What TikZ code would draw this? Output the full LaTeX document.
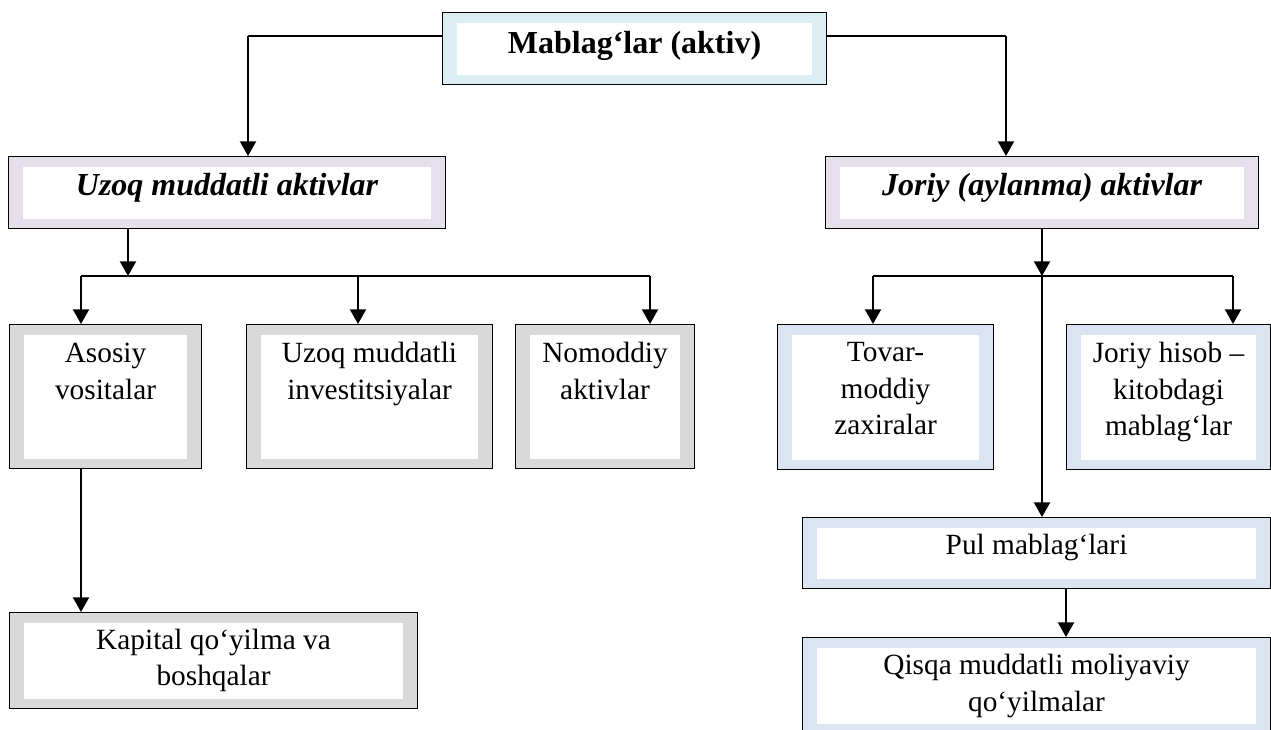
\documentclass[tikz,border=0pt]{standalone}
\usepackage{fontspec}
\setmainfont{Liberation Serif}
\usetikzlibrary{arrows.meta,positioning}
\definecolor{bandtop}{HTML}{DAEEF3}
\definecolor{bandlav}{HTML}{E5E0EC}
\definecolor{bandgray}{HTML}{D9D9D9}
\definecolor{bandblue}{HTML}{DBE5F1}
\tikzset{
  box/.style={draw=black, line width=0.8pt, fill=#1, anchor=north west, inner sep=0pt,
    path picture={\fill[white] ([shift={(11pt,-7.5pt)}]path picture bounding box.north west)
      rectangle ([shift={(-11pt,7.5pt)}]path picture bounding box.south east);}},
  boxsize/.style 2 args={minimum width=#1*0.75pt, minimum height=#2*0.75pt},
  txt/.style={align=center, inner sep=0pt, font=\fontsize{22}{27.5}\selectfont},
  head/.style={align=center, inner sep=0pt, font=\fontsize{24}{29}\selectfont\bfseries},
  headit/.style={head, font=\fontsize{24}{29}\selectfont\bfseries\itshape},
  thinline/.style={line width=0.9pt},
  arr/.style={line width=1.5pt, -{Triangle[width=12pt,length=11pt]}}
}
\begin{document}
\begin{tikzpicture}[x=0.75pt, y=-0.75pt]
  \useasboundingbox (0,0) rectangle (1271,729);

  % boxes
  \node[box=bandtop, boxsize={384}{72}] (title) at (442,12) {};
  \node[box=bandlav, boxsize={437}{72}] (uzoq) at (8,156) {};
  \node[box=bandlav, boxsize={433}{72}] (joriy) at (825,156) {};
  \node[box=bandgray, boxsize={192}{144}] (asosiy) at (9,324) {};
  \node[box=bandgray, boxsize={246}{144}] (invest) at (246,324) {};
  \node[box=bandgray, boxsize={179}{144}] (nomod) at (515,324) {};
  \node[box=bandgray, boxsize={408}{96}] (kapital) at (9,612) {};
  \node[box=bandblue, boxsize={216}{145}] (tovar) at (777,324) {};
  \node[box=bandblue, boxsize={204}{145}] (hisob) at (1066,324) {};
  \node[box=bandblue, boxsize={468}{71}] (pul) at (802,517) {};
  \node[box=bandblue, boxsize={468}{96}] (qisqa) at (802,637) {};

  % texts
  \node[head, below=14pt of title.north] (title-t) {Mablag‘lar (aktiv)};
  \node[headit, below=12.5pt of uzoq.north] (uzoq-t) {Uzoq muddatli aktivlar};
  \node[headit, below=12.5pt of joriy.north] (joriy-t) {Joriy (aylanma) aktivlar};
  \node[txt, below=14pt of asosiy.north] (asosiy-t) {Asosiy\\vositalar};
  \node[txt, below=13.5pt of invest.north] (invest-t) {Uzoq muddatli\\investitsiyalar};
  \node[txt, below=13.5pt of nomod.north] (nomod-t) {Nomoddiy\\aktivlar};
  \node[txt, below=12.5pt of kapital.north] (kapital-t) {Kapital qo‘yilma va\\boshqalar};
  \node[txt, below=13.5pt of tovar.north] (tovar-t) {Tovar-\\moddiy\\zaxiralar};
  \node[txt, below=13.5pt of hisob.north] (hisob-t) {Joriy hisob –\\kitobdagi\\mablag‘lar};
  \node[txt, below=13pt of pul.north] (pul-t) {Pul mablag‘lari};
  \node[txt, below=13pt of qisqa.north] (qisqa-t) {Qisqa muddatli moliyaviy\\qo‘yilmalar};

  % connectors
  \coordinate (tl) at (248,36);
  \coordinate (tr) at (1006,36);
  \coordinate (lbar) at (128,276);
  \coordinate (b1) at (81,276);
  \coordinate (b2) at (358,276);
  \coordinate (b3) at (650,276);
  \coordinate (rbar) at (1042,276);
  \coordinate (c1) at (873,276);
  \coordinate (c2) at (1233,276);
  \coordinate (pq) at (1066,600);

  \draw[thinline] (title.west |- tl) -- (tl);
  \draw[thinline] (title.east |- tr) -- (tr);
  \draw[arr] (tl) -- (tl |- uzoq.north);
  \draw[arr] (tr) -- (tr |- joriy.north);

  \draw[arr] (lbar |- uzoq.south) -- (lbar);
  \draw[thinline] (b1) -- (b3);
  \draw[arr] (b1) -- (b1 |- asosiy.north);
  \draw[arr] (b2) -- (b2 |- invest.north);
  \draw[arr] (b3) -- (b3 |- nomod.north);
  \draw[arr] (b1 |- asosiy.south) -- (b1 |- kapital.north);

  \draw[arr] (rbar |- joriy.south) -- (rbar);
  \draw[thinline] (c1) -- (c2);
  \draw[arr] (c1) -- (c1 |- tovar.north);
  \draw[arr] (c2) -- (c2 |- hisob.north);
  \draw[arr] (rbar) -- (rbar |- pul.north);
  \draw[arr] (pq |- pul.south) -- (pq |- qisqa.north);
\end{tikzpicture}
\end{document}
